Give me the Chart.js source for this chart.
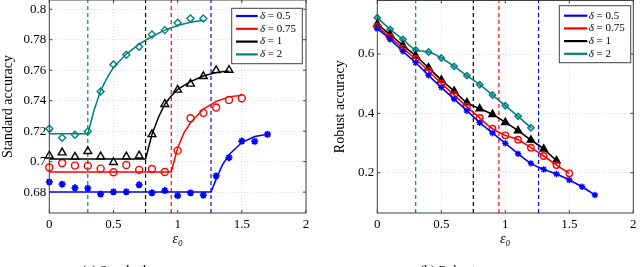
<!DOCTYPE html>
<html>
<head>
<meta charset="utf-8">
<script src="https://cdn.jsdelivr.net/npm/chart.js@4.4.0/dist/chart.umd.min.js"></script>
<style>
  body { margin: 0; width: 640px; height: 267px; overflow: hidden; background: #fff; position: relative; font-family: "Liberation Serif", serif; }
  .painel { position: absolute; top: 0; width: 320px; height: 267px; }
  .rodape { position: absolute; top: 262px; font-size: 13px; color: #000; white-space: nowrap; }
</style>
</head>
<body>
<div class="painel" style="left:0"><canvas id="graficoPadrao" width="320" height="267"></canvas></div>
<div class="painel" style="left:320px"><canvas id="graficoRobusto" width="320" height="267"></canvas></div>
<div class="rodape" style="left:82px">(a) Standard accuracy</div>
<div class="rodape" style="left:420px">(b) Robust accuracy</div>
<script>
// Legenda e cores
const deltas = ['δ = 0.5', 'δ = 0.75', 'δ = 1', 'δ = 2'];
const cores = ['#0000ff', '#ff0000', '#000000', '#008080'];
const limiares = [1.26, 0.95, 0.75, 0.3];

// Eixos
const ticksX = [0, 0.5, 1, 1.5, 2];
const ticksPadrao = [0.68, 0.7, 0.72, 0.74, 0.76, 0.78, 0.8];
const ticksRobusto = [0.2, 0.4, 0.6];

// Valores de epsilon medidos
const epsMedidos = [0, 0.1, 0.2, 0.3, 0.4, 0.5, 0.6, 0.7, 0.8, 0.9, 1.0, 1.1, 1.2, 1.3, 1.4, 1.5, 1.6, 1.7];

// Standard accuracy (pontos)
const padrao05 = [0.6867, 0.6852, 0.6828, 0.6824, 0.6787, 0.6802, 0.6802, 0.6848, 0.6795, 0.681, 0.6776, 0.6795, 0.678, 0.6906, 0.7026, 0.7135, 0.7133, 0.7179];
const padrao075 = [0.6961, 0.6991, 0.6974, 0.6972, 0.6954, 0.693, 0.6978, 0.6946, 0.6952, 0.6932, 0.7072, 0.7285, 0.732, 0.7355, 0.7405, 0.7416];
const padrao1 = [0.7039, 0.7059, 0.7031, 0.7068, 0.7033, 0.6996, 0.7033, 0.7039, 0.7179, 0.7377, 0.7471, 0.751, 0.756, 0.7599, 0.7601];
const padrao2 = [0.7216, 0.7157, 0.7177, 0.7198, 0.746, 0.7638, 0.7702, 0.7754, 0.7834, 0.7863, 0.7911, 0.7939, 0.7939];

// Standard accuracy (curvas ajustadas)
const ajusteX05 = [0, 1.26, 1.3, 1.35, 1.4, 1.5, 1.6, 1.7];
const ajusteY05 = [0.68, 0.68, 0.6885, 0.698, 0.7045, 0.7125, 0.7165, 0.718];
const ajusteX075 = [0, 0.95, 1.0, 1.05, 1.1, 1.2, 1.3, 1.4, 1.5];
const ajusteY075 = [0.6932, 0.6932, 0.709, 0.719, 0.7255, 0.7345, 0.7395, 0.7425, 0.7435];
const ajusteX1 = [0, 0.75, 0.8, 0.85, 0.9, 0.95, 1.0, 1.1, 1.2, 1.3, 1.4];
const ajusteY1 = [0.7017, 0.7017, 0.718, 0.729, 0.7377, 0.743, 0.7475, 0.7525, 0.7562, 0.7585, 0.7595];
const ajusteX2 = [0, 0.3, 0.35, 0.4, 0.45, 0.5, 0.6, 0.7, 0.8, 0.9, 1.0, 1.1, 1.2];
const ajusteY2 = [0.7183, 0.7183, 0.734, 0.7466, 0.755, 0.7618, 0.7706, 0.7771, 0.7821, 0.7863, 0.7893, 0.7915, 0.7928];

// Robust accuracy
const robusta05 = [0.6854, 0.6494, 0.609, 0.5708, 0.5281, 0.4876, 0.4483, 0.409, 0.3685, 0.3337, 0.2989, 0.264, 0.2315, 0.2112, 0.1955, 0.1753, 0.1528, 0.1247];
const robusta075 = [0.6921, 0.6562, 0.6191, 0.5831, 0.5427, 0.5011, 0.4618, 0.4225, 0.3843, 0.3483, 0.3258, 0.3112, 0.2843, 0.2562, 0.2258, 0.1978];
const robusta1 = [0.7011, 0.6652, 0.6292, 0.5933, 0.5539, 0.5124, 0.4753, 0.436, 0.4157, 0.3966, 0.3697, 0.3416, 0.3101, 0.2798, 0.2404];
const robusta2 = [0.7225, 0.6831, 0.6494, 0.6135, 0.6067, 0.5865, 0.5584, 0.527, 0.4966, 0.4618, 0.4258, 0.3899, 0.3517];

const FONTE = '"Liberation Serif", "DejaVu Serif", serif';

function pontos(xs, ys) {
  return ys.map((y, i) => ({ x: xs[i], y }));
}

// Caixa do eixo com ticks para dentro
const caixa = {
  id: 'caixa',
  afterDatasetsDraw(chart) {
    const { ctx, chartArea: a, scales } = chart;
    ctx.save();
    ctx.strokeStyle = '#404040';
    ctx.lineWidth = 1;
    ctx.strokeRect(a.left, a.top, a.right - a.left, a.bottom - a.top);
    ctx.beginPath();
    scales.x.ticks.forEach(t => {
      const px = scales.x.getPixelForValue(t.value);
      ctx.moveTo(px, a.bottom); ctx.lineTo(px, a.bottom - 3);
      ctx.moveTo(px, a.top); ctx.lineTo(px, a.top + 3);
    });
    scales.y.ticks.forEach(t => {
      const py = scales.y.getPixelForValue(t.value);
      ctx.moveTo(a.left, py); ctx.lineTo(a.left + 3, py);
      ctx.moveTo(a.right, py); ctx.lineTo(a.right - 3, py);
    });
    ctx.stroke();
    ctx.restore();
  }
};

// Legenda com borda
const legendaCaixa = {
  id: 'legendaCaixa',
  afterDraw(chart, args, o) {
    const { ctx, chartArea: a } = chart;
    const itens = chart.data.datasets.filter(d => d.naLegenda);
    const x0 = a.right - o.direita - o.largura;
    const y0 = a.top + o.topo;
    ctx.save();
    ctx.fillStyle = '#fff';
    ctx.fillRect(x0, y0, o.largura, o.altura);
    ctx.strokeStyle = '#404040';
    ctx.lineWidth = 1;
    ctx.strokeRect(x0, y0, o.largura, o.altura);
    ctx.textBaseline = 'middle';
    itens.forEach((d, i) => {
      const y = y0 + o.primeira + i * o.passo;
      ctx.strokeStyle = d.borderColor;
      ctx.lineWidth = 2.2;
      ctx.beginPath();
      ctx.moveTo(x0 + o.linhaIni, y);
      ctx.lineTo(x0 + o.linhaFim, y);
      ctx.stroke();
      ctx.fillStyle = '#000';
      ctx.font = 'italic 11px ' + FONTE;
      ctx.fillText(d.label[0], x0 + o.texto, y);
      const w = ctx.measureText(d.label[0]).width;
      ctx.font = '11px ' + FONTE;
      ctx.fillText(d.label.slice(1), x0 + o.texto + w, y);
    });
    ctx.restore();
  }
};

function linhasVerticais(yMin, yMax) {
  return limiares.map((t, i) => ({
    data: [{ x: t, y: yMin }, { x: t, y: yMax }],
    borderColor: cores[i],
    borderWidth: 1.2,
    borderDash: [4, 3],
    pointRadius: 0,
    tension: 0
  }));
}

function escalas(yMin, yMax, ticksY, larguraY, tituloY, padTituloY) {
  return {
    x: {
      type: 'linear', min: 0, max: 2,
      afterBuildTicks: s => { s.ticks = ticksX.map(v => ({ value: v })); },
      afterFit: s => { s.height = 54; s.paddingLeft = 0; s.paddingRight = 0; },
      ticks: { color: '#000', font: { family: FONTE, size: 13 }, padding: 4, maxRotation: 0, callback: v => String(v) },
      grid: { color: '#cfcfcf', lineWidth: 0.8, drawTicks: false },
      border: { display: false, dash: [1, 2] },
      title: { display: true, text: 'ε₀', color: '#000', font: { family: FONTE, size: 14, style: 'italic' }, padding: { top: 0, bottom: 19 } }
    },
    y: {
      type: 'linear', min: yMin, max: yMax,
      afterBuildTicks: s => { s.ticks = ticksY.map(v => ({ value: v })); },
      afterFit: s => { s.width = larguraY; s.paddingTop = 0; s.paddingBottom = 0; },
      ticks: { color: '#000', font: { family: FONTE, size: 13 }, padding: 3, callback: v => String(v) },
      grid: { color: '#cfcfcf', lineWidth: 0.8, drawTicks: false },
      border: { display: false, dash: [1, 2] },
      title: { display: true, text: tituloY, color: '#000', font: { family: FONTE, size: 14 }, padding: { top: padTituloY, bottom: 0 } }
    }
  };
}

// Gráfico (a): Standard accuracy
const serieMarcas = [padrao05, padrao075, padrao1, padrao2];
const ajustesX = [ajusteX05, ajusteX075, ajusteX1, ajusteX2];
const ajustesY = [ajusteY05, ajusteY075, ajusteY1, ajusteY2];
const estilos = ['star', 'circle', 'triangle', 'rectRot'];
const raios = [3.5, 3.5, 4.5, 3.5];

const yMinA = 0.66628, yMaxA = 0.80607;
const dadosPadrao = [];
deltas.forEach((d, i) => {
  dadosPadrao.push({
    label: d, naLegenda: true,
    data: pontos(ajustesX[i], ajustesY[i]),
    borderColor: cores[i], borderWidth: 1.5, pointRadius: 0, tension: 0, clip: false
  });
});
deltas.forEach((d, i) => {
  dadosPadrao.push({
    data: pontos(epsMedidos, serieMarcas[i]),
    showLine: false,
    borderColor: cores[i], backgroundColor: 'rgba(0,0,0,0)',
    pointStyle: estilos[i], pointRadius: raios[i], pointBorderWidth: i === 0 ? 1.8 : 1.4,
    clip: false
  });
});
linhasVerticais(yMinA, yMaxA).forEach(l => dadosPadrao.push(l));

new Chart(document.getElementById('graficoPadrao').getContext('2d'), {
  type: 'line',
  data: { datasets: dadosPadrao },
  options: {
    responsive: false, animation: false,
    layout: { autoPadding: false, padding: { left: 0, right: 14, top: -1, bottom: 0 } },
    scales: escalas(yMinA, yMaxA, ticksPadrao, 49.3, 'Standard accuracy', 0),
    plugins: {
      legend: { display: false }, tooltip: { enabled: false },
      legendaCaixa: { direita: 3.7, topo: 8.3, largura: 70.6, altura: 55.4, primeira: 7.7, passo: 12.8, linhaIni: 4.3, linhaFim: 26, texto: 28.3 }
    }
  },
  plugins: [caixa, legendaCaixa]
});

// Gráfico (b): Robust accuracy
const serieRobusta = [robusta05, robusta075, robusta1, robusta2];
const fundos = ['rgba(0,0,0,0)', 'rgba(0,0,0,0)', '#000000', 'rgba(0,128,128,0.45)'];
const yMinB = 0.0642, yMaxB = 0.7803;
const dadosRobusto = serieRobusta.map((s, i) => ({
  label: deltas[i], naLegenda: true,
  data: pontos(epsMedidos, s),
  borderColor: cores[i], backgroundColor: fundos[i],
  borderWidth: 1.6, cubicInterpolationMode: 'monotone',
  pointStyle: estilos[i], pointRadius: raios[i] - 0.3, pointBorderWidth: 1.4,
  clip: false
}));
linhasVerticais(yMinB, yMaxB).forEach(l => dadosRobusto.push(l));

new Chart(document.getElementById('graficoRobusto').getContext('2d'), {
  type: 'line',
  data: { datasets: dadosRobusto },
  options: {
    responsive: false, animation: false,
    layout: { autoPadding: false, padding: { left: 0, right: 6.7, top: 0.5, bottom: 0 } },
    scales: escalas(yMinB, yMaxB, ticksRobusto, 57.3, 'Robust accuracy', 11.6),
    plugins: {
      legend: { display: false }, tooltip: { enabled: false },
      legendaCaixa: { direita: 2.6, topo: 5.2, largura: 71.4, altura: 57, primeira: 10, passo: 12.7, linhaIni: 4.7, linhaFim: 28, texto: 29.4 }
    }
  },
  plugins: [caixa, legendaCaixa]
});
</script>
</body>
</html>
